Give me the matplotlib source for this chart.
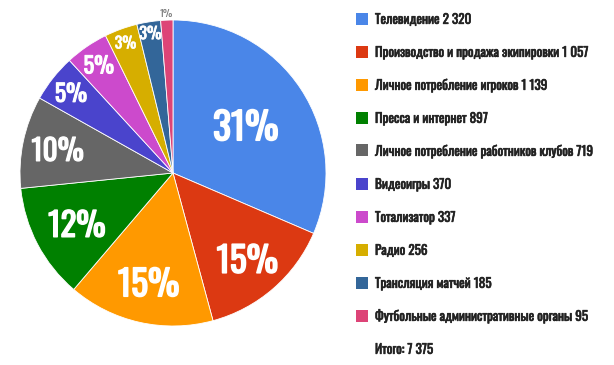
#!/usr/bin/env python3

# Football market pie chart (recreated) ==============================

import numpy as np
import matplotlib
matplotlib.use('Agg')
import matplotlib.pyplot as plt
import matplotlib.patheffects as pe
from matplotlib.patches import Rectangle

# data ===============================================================
categories=['Телевидение','Производство и продажа экипировки',
            'Личное потребление игроков','Пресса и интернет',
            'Личное потребление работников клубов','Видеоигры',
            'Тотализатор','Радио','Трансляция матчей',
            'Футбольные административные органы']
values=[2320,1057,1139,897,719,370,337,256,185,95]
value_labels=['2 320','1 057','1 139','897','719','370','337','256','185','95']
pct_labels=['31%','15%','15%','12%','10%','5%','5%','3%','3%','1%']
total_label='Итого: 7 375'

# styles =============================================================
colors_list=['#4a86e8','#dc3912','#ff9900','#008000','#666666',
             '#4a44cc','#cc4acc','#d6ae00','#336699','#dd4477']
lbl_rad=[0.57,0.74,0.73,0.71,0.77,0.85,0.86,0.91,0.93,1.05]
lbl_size=[27.0,25.4,25.4,23.7,21.1,17.0,16.1,11.3,11.8,7.6]
fnt=['Oswald','DejaVu Sans']
cap=0.405   # half cap height / font size


def main():
    W,H=614,365
    fig=plt.figure(figsize=(W/100,H/100),dpi=100)
    fig.patch.set_facecolor('white')

    # pie axes: centre (173,173) px, radius 153 px
    cx,cy,rad=173,173,153
    ax=fig.add_axes([(cx-rad)/W,(H-cy-rad)/H,2*rad/W,2*rad/H])
    wedges,_=ax.pie(values,colors=colors_list,startangle=90,counterclock=False,
                    radius=1.0,wedgeprops=dict(edgecolor='white',linewidth=0.6))
    ax.set_xlim(-1,1)
    ax.set_ylim(-1,1)
    ax.set_aspect('equal')
    ax.axis('off')

    # percent labels
    for i,w in enumerate(wedges):
        th=np.deg2rad(0.5*(w.theta1+w.theta2))
        r=lbl_rad[i]
        x,y=r*np.cos(th),r*np.sin(th)
        if i==len(wedges)-1:
            col,fx='#757575',[]
        else:
            col,fx='white',[pe.withStroke(linewidth=0.045*lbl_size[i],foreground='white')]
        ax.annotate(pct_labels[i],xy=(x,y),xytext=(0,-cap*lbl_size[i]),
                    textcoords='offset points',ha='center',va='baseline',
                    fontsize=lbl_size[i],color=col,family=fnt,
                    path_effects=fx,annotation_clip=False)

    # legend
    fs=9.5
    sq=12
    x_sq,x_tx=356,375
    y0,dy=18.5,33
    fx=[pe.withStroke(linewidth=0.45,foreground='#222222')]
    labels=[c+' '+v for c,v in zip(categories,value_labels)]+[total_label]
    for i,txt in enumerate(labels):
        yc=y0+dy*i
        if i<len(categories):
            fig.add_artist(Rectangle((x_sq/W,(H-yc-sq/2)/H),sq/W,sq/H,
                           transform=fig.transFigure,facecolor=colors_list[i],
                           edgecolor='none'))
        fig.text(x_tx/W,(H-yc-cap*fs*100/72)/H,txt,ha='left',va='baseline',
                 fontsize=fs,color='#222222',family=fnt,path_effects=fx)

    fig.savefig('out.png',dpi=100,facecolor='white')
    plt.close('all')


if __name__=='__main__':
    main()
